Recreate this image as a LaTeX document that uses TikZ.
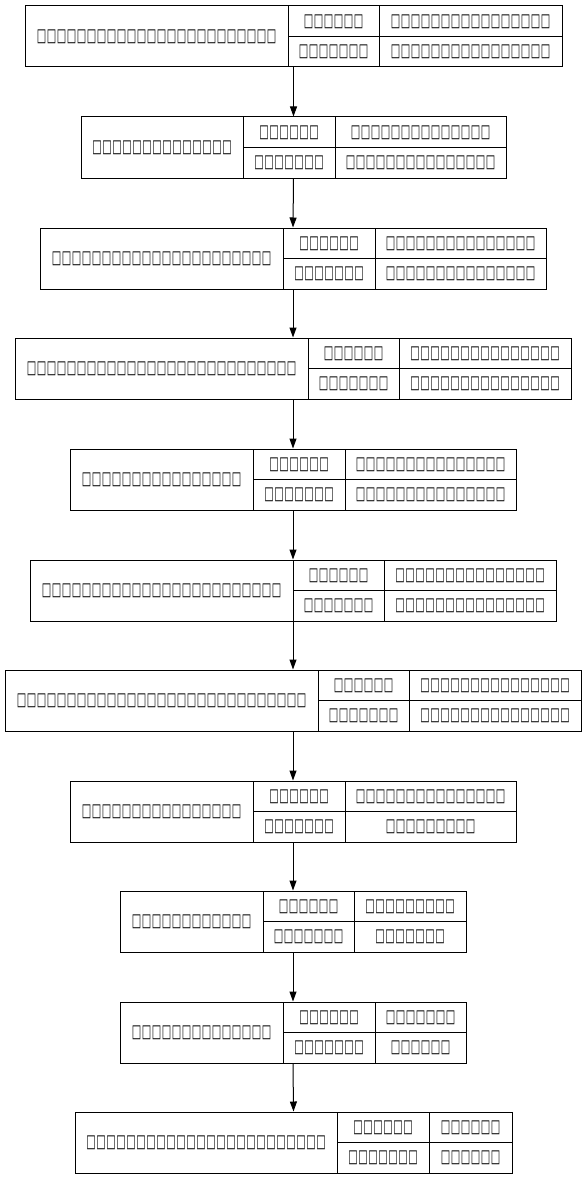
\documentclass[tikz,border=0pt]{standalone}
\usepackage{fontspec}
\usetikzlibrary{arrows.meta}
\newfontfamily\dvfont{DejaVu Sans}
\newcommand\tofuglyph{\makebox[10pt]{\scalebox{0.8}[1.45]{\dvfont\fontsize{12.5pt}{12.5pt}\selectfont\symbol{"25A1}}}}
\newcommand\tofus[1]{\foreach \k in {1,...,#1}{\tofuglyph}}
\begin{document}
\begin{tikzpicture}[x=1pt,y=-1pt,
  rec/.style={draw, line width=1pt, inner sep=0pt, minimum height=61pt},
  lbl/.style={inner sep=0pt, text=black},
  divider/.style={line width=1pt},
  edge/.style={-{Triangle[length=10pt,width=7pt]}, line width=1pt}]
\useasboundingbox (0,0) rectangle (587,1180);
\foreach \i/\yt/\xl/\da/\db/\xr/\nl/\nt/\nb in {
  1/6/25/288/379/562/24/16/16,
  2/117/81/243/335/506/14/14/15,
  3/228/40/283/375/546/22/15/15,
  4/338/15/308/399/571/27/15/15,
  5/449/70/253/345/516/16/15/15,
  6/560/30/293/384/556/24/15/15,
  7/670/5/318/409/581/29/15/15,
  8/781/70/253/345/516/16/15/9,
  9/891/120/263/354/466/12/9/7,
  10/1002/120/283/375/466/14/7/6,
  11/1112/75/337/429/512/24/6/6}{
  \node[rec, minimum width={\xr-\xl}] (r\i) at ({(\xl+\xr)/2},{\yt+30.5}) {};
  \draw[divider] ({\da},{\yt}) -- ({\da},{\yt+61});
  \draw[divider] ({\db},{\yt}) -- ({\db},{\yt+61});
  \draw[divider] ({\da},{\yt+30.5}) -- ({\xr},{\yt+30.5});
  \node[lbl] (l\i) at ({(\xl+\da)/2},{\yt+30.5}) {\tofus{\nl}};
  \node[lbl] (mt\i) at ({(\da+\db)/2},{\yt+15.5}) {\tofus{6}};
  \node[lbl] (mb\i) at ({(\da+\db)/2},{\yt+46}) {\tofus{7}};
  \node[lbl] (rt\i) at ({(\db+\xr)/2},{\yt+15.5}) {\tofus{\nt}};
  \node[lbl] (rb\i) at ({(\db+\xr)/2},{\yt+46}) {\tofus{\nb}};
}
\foreach \i [count=\j from 2] in {1,...,10}
  \draw[edge] (r\i.south) -- (r\j.north);
\end{tikzpicture}
\end{document}
